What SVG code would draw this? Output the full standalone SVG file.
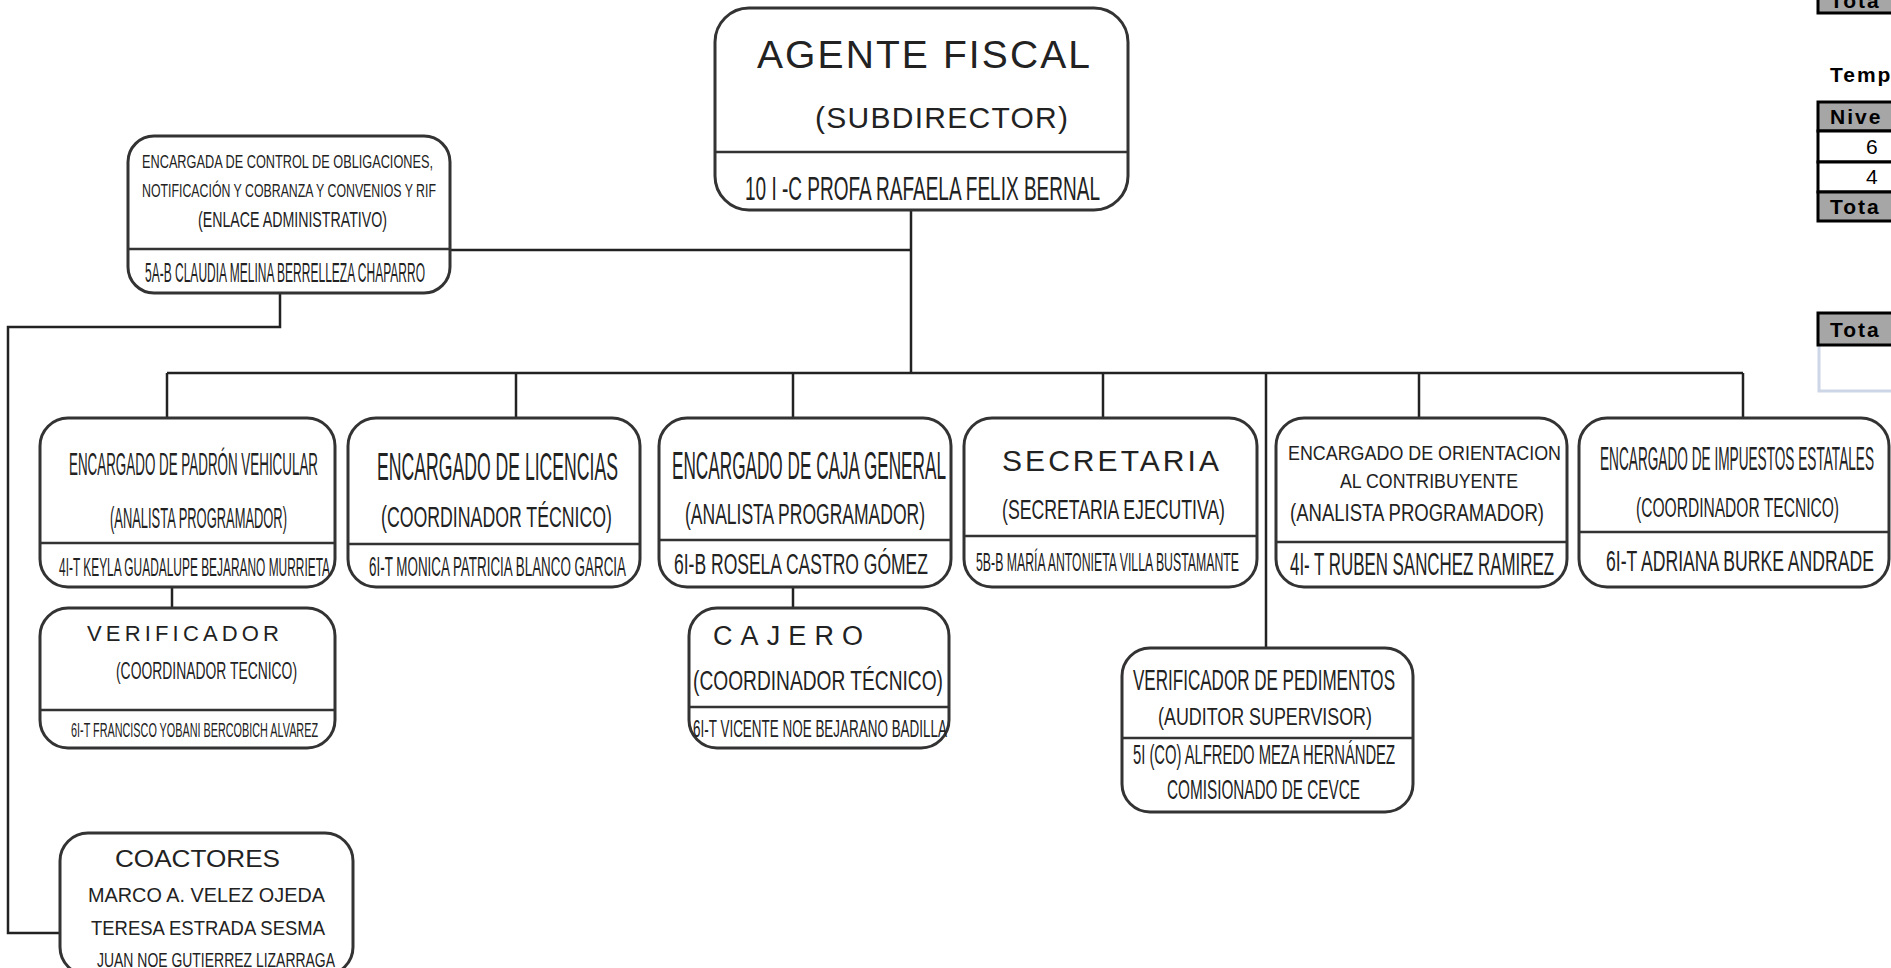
<svg xmlns="http://www.w3.org/2000/svg" width="1891" height="968" viewBox="0 0 1891 968">
<style>
.box{fill:#fff;stroke:#333;stroke-width:3}
.div{stroke:#333;stroke-width:2.5}
.con{fill:none;stroke:#222;stroke-width:2.5}
text{font-family:"Liberation Sans",Arial,sans-serif;fill:#222}
.tb{font-weight:bold;fill:#000;font-size:21px;letter-spacing:2px}
.num{fill:#000;font-size:21px}
.cell{fill:#a6a6a6;stroke:#000;stroke-width:3}
.wcell{fill:#fff;stroke:#000;stroke-width:3}
</style>
<rect width="1891" height="968" fill="#fff"/>

<g id="connectors">
<line class="con" x1="911" y1="210" x2="911" y2="373"/>
<line class="con" x1="450" y1="250" x2="912" y2="250"/>
<line class="con" x1="167" y1="373" x2="1743" y2="373"/>
<line class="con" x1="167" y1="373" x2="167" y2="418"/>
<line class="con" x1="516" y1="373" x2="516" y2="418"/>
<line class="con" x1="793" y1="373" x2="793" y2="418"/>
<line class="con" x1="1103" y1="373" x2="1103" y2="418"/>
<line class="con" x1="1419" y1="373" x2="1419" y2="418"/>
<line class="con" x1="1743" y1="373" x2="1743" y2="418"/>
<line class="con" x1="1266" y1="373" x2="1266" y2="648"/>
<line class="con" x1="172" y1="587" x2="172" y2="608"/>
<line class="con" x1="793" y1="587" x2="793" y2="608"/>
<polyline class="con" points="280,293 280,327 8,327 8,933 60,933"/>
</g>

<g id="agente-fiscal">
<rect class="box" x="715" y="8" width="413" height="202" rx="34"/>
<line class="div" x1="716" y1="152" x2="1127" y2="152"/>
<text x="757" y="68" font-size="39" textLength="333" lengthAdjust="spacing">AGENTE FISCAL</text>
<text x="815" y="128" font-size="30" textLength="253" lengthAdjust="spacing">(SUBDIRECTOR)</text>
<text x="745" y="200" font-size="33" textLength="355" lengthAdjust="spacingAndGlyphs">10 I -C  PROFA RAFAELA FELIX BERNAL</text>
</g>

<g id="encargada-control">
<rect class="box" x="128" y="136" width="322" height="157" rx="26"/>
<line class="div" x1="129" y1="249" x2="449" y2="249"/>
<text x="142" y="168" font-size="19" textLength="291" lengthAdjust="spacingAndGlyphs">ENCARGADA  DE CONTROL DE OBLIGACIONES,</text>
<text x="142" y="197" font-size="19" textLength="294" lengthAdjust="spacingAndGlyphs">NOTIFICACIÓN Y COBRANZA Y CONVENIOS Y RIF</text>
<text x="198" y="227" font-size="22" textLength="189" lengthAdjust="spacingAndGlyphs">(ENLACE ADMINISTRATIVO)</text>
<text x="145" y="282" font-size="27" textLength="280" lengthAdjust="spacingAndGlyphs">5A-B CLAUDIA MELINA BERRELLEZA CHAPARRO</text>
</g>

<g id="padron-vehicular">
<rect class="box" x="40" y="418" width="295" height="169" rx="28"/>
<line class="div" x1="41" y1="543" x2="334" y2="543"/>
<text x="69" y="475" font-size="32" textLength="249" lengthAdjust="spacingAndGlyphs">ENCARGADO DE PADRÓN VEHICULAR</text>
<text x="110" y="528" font-size="29" textLength="177" lengthAdjust="spacingAndGlyphs">(ANALISTA PROGRAMADOR)</text>
<text x="59" y="576" font-size="26" textLength="271" lengthAdjust="spacingAndGlyphs">4I-T  KEYLA GUADALUPE BEJARANO MURRIETA</text>
</g>

<g id="licencias">
<rect class="box" x="348" y="418" width="292" height="169" rx="28"/>
<line class="div" x1="349" y1="544" x2="639" y2="544"/>
<text x="377" y="480" font-size="38" textLength="241" lengthAdjust="spacingAndGlyphs">ENCARGADO DE LICENCIAS</text>
<text x="381" y="527" font-size="30" textLength="231" lengthAdjust="spacingAndGlyphs">(COORDINADOR TÉCNICO)</text>
<text x="369" y="576" font-size="27" textLength="257" lengthAdjust="spacingAndGlyphs">6I-T   MONICA PATRICIA BLANCO GARCIA</text>
</g>

<g id="caja-general">
<rect class="box" x="659" y="418" width="292" height="169" rx="28"/>
<line class="div" x1="660" y1="540" x2="950" y2="540"/>
<text x="672" y="479" font-size="38" textLength="274" lengthAdjust="spacingAndGlyphs">ENCARGADO DE  CAJA GENERAL</text>
<text x="685" y="524" font-size="30" textLength="240" lengthAdjust="spacingAndGlyphs">(ANALISTA PROGRAMADOR)</text>
<text x="674" y="574" font-size="30" textLength="254" lengthAdjust="spacingAndGlyphs">6I-B  ROSELA CASTRO GÓMEZ</text>
</g>

<g id="secretaria">
<rect class="box" x="964" y="418" width="293" height="169" rx="28"/>
<line class="div" x1="965" y1="536" x2="1256" y2="536"/>
<text x="1002" y="471" font-size="30" textLength="217" lengthAdjust="spacing">SECRETARIA</text>
<text x="1002" y="519" font-size="28" textLength="223" lengthAdjust="spacingAndGlyphs">(SECRETARIA EJECUTIVA)</text>
<text x="976" y="571" font-size="26" textLength="263" lengthAdjust="spacingAndGlyphs">5B-B  MARÍA ANTONIETA VILLA BUSTAMANTE</text>
</g>

<g id="orientacion">
<rect class="box" x="1276" y="418" width="291" height="169" rx="28"/>
<line class="div" x1="1277" y1="542" x2="1566" y2="542"/>
<text x="1288" y="460" font-size="21" textLength="273" lengthAdjust="spacingAndGlyphs">ENCARGADO DE ORIENTACION</text>
<text x="1340" y="488" font-size="21" textLength="178" lengthAdjust="spacingAndGlyphs">AL CONTRIBUYENTE</text>
<text x="1290" y="521" font-size="23" textLength="254" lengthAdjust="spacingAndGlyphs">(ANALISTA PROGRAMADOR)</text>
<text x="1290" y="575" font-size="31" textLength="264" lengthAdjust="spacingAndGlyphs">4I- T  RUBEN SANCHEZ RAMIREZ</text>
</g>

<g id="impuestos-estatales">
<rect class="box" x="1579" y="418" width="310" height="169" rx="28"/>
<line class="div" x1="1580" y1="532" x2="1888" y2="532"/>
<text x="1600" y="470" font-size="33" textLength="274" lengthAdjust="spacingAndGlyphs">ENCARGADO DE IMPUESTOS ESTATALES</text>
<text x="1636" y="517" font-size="27" textLength="203" lengthAdjust="spacingAndGlyphs">(COORDINADOR TECNICO)</text>
<text x="1606" y="571" font-size="30" textLength="268" lengthAdjust="spacingAndGlyphs">6I-T ADRIANA BURKE ANDRADE</text>
</g>

<g id="verificador">
<rect class="box" x="40" y="608" width="295" height="140" rx="28"/>
<line class="div" x1="41" y1="710" x2="334" y2="710"/>
<text x="87" y="641" font-size="22" textLength="192" lengthAdjust="spacing">VERIFICADOR</text>
<text x="116" y="679" font-size="24" textLength="181" lengthAdjust="spacingAndGlyphs">(COORDINADOR TECNICO)</text>
<text x="71" y="737" font-size="21" textLength="247" lengthAdjust="spacingAndGlyphs">6I-T  FRANCISCO YOBANI BERCOBICH ALVAREZ</text>
</g>

<g id="cajero">
<rect class="box" x="689" y="608" width="260" height="140" rx="28"/>
<line class="div" x1="690" y1="707" x2="948" y2="707"/>
<text x="713" y="645" font-size="27" textLength="150" lengthAdjust="spacing">CAJERO</text>
<text x="693" y="690" font-size="28" textLength="250" lengthAdjust="spacingAndGlyphs">(COORDINADOR TÉCNICO)</text>
<text x="693" y="737" font-size="24" textLength="254" lengthAdjust="spacingAndGlyphs">6I-T VICENTE NOE  BEJARANO BADILLA</text>
</g>

<g id="verificador-pedimentos">
<rect class="box" x="1122" y="648" width="291" height="164" rx="28"/>
<line class="div" x1="1123" y1="738" x2="1412" y2="738"/>
<text x="1133" y="690" font-size="30" textLength="262" lengthAdjust="spacingAndGlyphs">VERIFICADOR DE PEDIMENTOS</text>
<text x="1158" y="725" font-size="23" textLength="214" lengthAdjust="spacingAndGlyphs">(AUDITOR SUPERVISOR)</text>
<text x="1133" y="764" font-size="28" textLength="262" lengthAdjust="spacingAndGlyphs">5I (CO) ALFREDO MEZA HERNÁNDEZ</text>
<text x="1167" y="799" font-size="28" textLength="193" lengthAdjust="spacingAndGlyphs">COMISIONADO DE CEVCE</text>
</g>

<g id="coactores">
<rect class="box" x="60" y="833" width="293" height="142" rx="28"/>
<text x="115" y="867" font-size="24" textLength="165" lengthAdjust="spacingAndGlyphs">COACTORES</text>
<text x="88" y="902" font-size="21" textLength="237" lengthAdjust="spacingAndGlyphs">MARCO A. VELEZ OJEDA</text>
<text x="91" y="935" font-size="21" textLength="234" lengthAdjust="spacingAndGlyphs">TERESA ESTRADA SESMA</text>
<text x="97" y="967" font-size="21" textLength="238" lengthAdjust="spacingAndGlyphs">JUAN NOE GUTIERREZ LIZARRAGA</text>
</g>

<g id="tablas">
<rect class="cell" x="1818" y="-10" width="90" height="23"/>
<text class="tb" x="1830" y="8">Tota</text>
<text class="tb" x="1830" y="82">Temp</text>
<rect class="cell" x="1818" y="102" width="90" height="29"/>
<text class="tb" x="1830" y="124">Nive</text>
<rect class="wcell" x="1818" y="131" width="90" height="31"/>
<text class="num" x="1866" y="154">6</text>
<rect class="wcell" x="1818" y="162" width="90" height="30"/>
<text class="num" x="1866" y="184">4</text>
<rect class="cell" x="1818" y="192" width="90" height="29"/>
<text class="tb" x="1830" y="214">Tota</text>
<polyline points="1819,345 1819,391 1895,391" fill="none" stroke="#cdd6e6" stroke-width="3"/>
<rect class="cell" x="1818" y="313" width="90" height="32"/>
<text class="tb" x="1830" y="337">Tota</text>
</g>
</svg>
